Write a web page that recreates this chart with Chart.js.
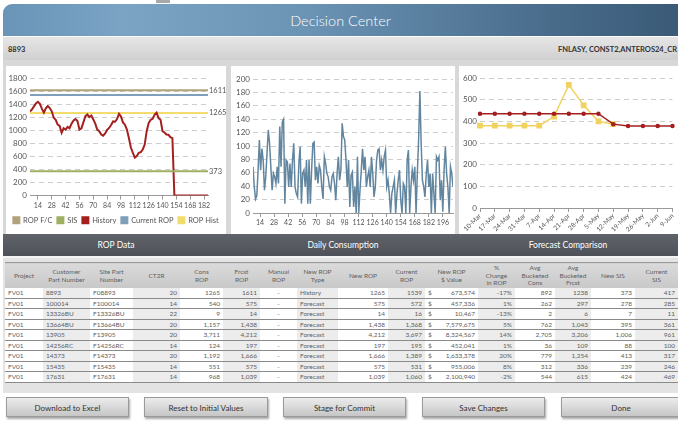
<!DOCTYPE html>
<html>
<head>
<meta charset="utf-8">
<script src="https://cdn.jsdelivr.net/npm/chart.js@4.4.1/dist/chart.umd.min.js"></script>
<style>
body{margin:0;width:678px;height:425px;overflow:hidden;background:#fff;font-family:Lato,'Open Sans',sans-serif;position:relative}
#tab{position:absolute;left:156px;top:0;width:14px;height:3px;background:#a9a9a9}
#header{position:absolute;left:3px;top:4px;width:675px;height:32px;border-radius:9px 0 0 0;
  background:linear-gradient(to right,#6a95b8 0%,#7aa3c4 18%,#6b93b4 45%,#4e7292 75%,#3a5a77 100%);
  color:#fff;font-size:14.5px;font-weight:300;text-align:center;line-height:33px}
#sub{position:absolute;left:3px;top:37px;width:675px;height:23px;background:linear-gradient(#e6e6e6,#d0d0d0);
  font-size:7.5px;font-weight:bold;color:#333}
#sub .l{position:absolute;left:5px;top:8px}
#sub .r{position:absolute;right:1px;top:8px}
#charts{position:absolute;left:3px;top:60px;width:675px;height:174px;background:#d8d8d8}
.panel{position:absolute;top:66px;height:168px;background:#fff}
#p1{left:6px;width:220px}
#p2{left:231px;width:224px}
#p3{left:459px;width:219px}
#bar{position:absolute;left:3px;top:234px;width:675px;height:22px;background:linear-gradient(#606369,#4e5157);color:#fff;font-size:8.5px}
#bar span{position:absolute;top:6px;transform:translateX(-50%);white-space:nowrap}
#tarea{position:absolute;left:3px;top:256px;width:675px;height:135px;background:#e3e3e3;border-top:2px solid #f4f4f4}
table{position:absolute;left:5px;top:262px;border-collapse:collapse;table-layout:fixed;width:673px;font-size:6.5px;color:#606060}
th{height:25px;padding:0 2px;background:linear-gradient(#dadada,#c8c8c8);font-weight:normal;white-space:pre-line;line-height:7.5px;border-top:1px solid #999}
td{height:9.5px;padding:0 3px;border-bottom:1px solid #8a8a8a;background:#fff;white-space:nowrap;line-height:9px}
td.g{background:#ececec}
td.r{text-align:right}
td.c{text-align:center}
td .d{float:left}
.btn{position:absolute;top:397px;height:20px;border:1px solid #9a9a9a;background:linear-gradient(#ececec,#c6c6c6);
  box-shadow:1px 2px 2px rgba(0,0,0,.35);font-size:8px;color:#333;text-align:center;line-height:20px;box-sizing:border-box}
canvas{position:absolute;top:66px}
</style>
</head>
<body>
<div id="tab"></div>
<div id="header">Decision Center</div>
<div id="sub"><span class="l">8893</span><span class="r">FNLASY, CONST2,ANTEROS24_CR</span></div>
<div id="charts"></div>
<div class="panel" id="p1"></div>
<div class="panel" id="p2"></div>
<div class="panel" id="p3"></div>
<canvas id="ropChart" width="220" height="168" style="left:6px"></canvas>
<canvas id="consChart" width="224" height="168" style="left:231px"></canvas>
<canvas id="fcChart" width="219" height="168" style="left:459px"></canvas>
<div id="bar"><span style="left:113px">ROP Data</span><span style="left:340px">Daily Consumption</span><span style="left:565px">Forecast Comparison</span></div>
<div id="tarea"></div>
<table id="tbl"></table>
<div class="btn" style="left:6px;width:123px">Download to Excel</div>
<div class="btn" style="left:144px;width:124px">Reset to Initial Values</div>
<div class="btn" style="left:283px;width:123px">Stage for Commit</div>
<div class="btn" style="left:422px;width:123px">Save Changes</div>
<div class="btn" style="left:561px;width:120px">Done</div>
<script>
// ROP data (history every 2 days from day 6)
const historyStart = 6
const historyStep = 2
const historyValues = [1285,1320,1365,1410,1436,1405,1330,1270,1335,1370,
  1340,1290,1190,1160,1085,1065,960,1030,1010,1050,
  1030,1100,1150,1170,1140,1010,1030,1120,1215,1240,
  1200,1225,1165,1100,1010,985,935,915,950,1005,
  1035,1080,1135,1130,1170,1250,1210,1120,1085,1010,
  880,735,655,580,605,655,665,705,780,985,
  1110,1160,1175,1235,1270,1185,1160,985,965,935,
  930,895,880,
  0,0,0,0,0,0,0,0,0,0,0,0,0,0,0,0,0,0]
const ropFc = 1611
const sisLevel = 373
const currentRop = 1539
const ropHist = 1265
const ropTicksX = [14,28,42,56,70,84,98,112,126,140,154,168,182]
const ropMarks = [373,1265,1611]

// daily consumption
const consStart = 7
const consEnd = 206
const consValues = [69,39,21,26,64,109,64,96,79,34,
  54,89,124,104,69,34,59,54,44,69,
  44,129,69,136,140,14,79,76,39,74,
  39,79,104,39,29,24,74,99,14,59,
  64,39,79,14,79,14,64,104,106,49,
  69,44,71,64,39,21,84,74,59,54,
  39,34,54,59,44,19,59,84,49,64,
  134,114,109,79,39,79,9,56,61,9,
  39,0,84,0,34,64,96,64,84,39,
  54,64,39,84,59,24,39,79,94,96,
  64,79,64,84,94,39,49,29,0,29,
  39,49,0,29,49,64,19,0,44,39,
  0,79,94,0,39,64,49,69,0,59,
  109,182,104,49,39,24,59,79,39,59,
  0,59,29,0,84,79,84,19,49,2,
  64,99,59,39,0,69,59,39]
const consTicksX = [14,28,42,56,70,84,98,112,126,140,154,168,182,196]

// forecast comparison
const weeks = ['10-Mar','17-Mar','24-Mar','31-Mar','7-Apr','14-Apr','21-Apr','28-Apr','5-May','12-May','19-May','26-May','2-Jun','9-Jun']
const fcRed = [435,435,435,435,435,435,435,435,435,387,378,378,378,378]
const fcYellow = [380,380,380,380,380,422,568,474,400,387]

// table
const tableHead = ['Project','Customer\nPart Number','Site Part\nNumber','CT2R','Cons\nROP','Frcst\nROP','Manual\nROP','New ROP\nType','New ROP','Current\nROP','New ROP\n$ Value','%\nChange\nin ROP','Avg\nBucketed\nCons','Avg\nBucketed\nFrcst','New SIS','Current\nSIS']
const colWidths = [38,47,43,47,43,37,37,41,50,37,53,37,40,36,44,43]
const colAlign = ['','','','r','r','r','c','','r','r','r','r','r','r','r','r']
const tableRows = [
  ['FV01','8893','F08893','20','1265','1611','-','History','1265','1539','673,574','-17%','892','1238','373','417'],
  ['FV01','100014','F100014','14','540','575','-','Forecast','575','572','457,336','1%','262','297','278','285'],
  ['FV01','13326BU','F13326BU','22','9','14','-','Forecast','14','16','10,467','-13%','2','6','7','11'],
  ['FV01','13664BU','F13664BU','20','1,157','1,438','-','Forecast','1,438','1,368','7,579,675','5%','762','1,043','395','361'],
  ['FV01','13905','F13905','20','3,711','4,212','-','Forecast','4,212','3,697','8,324,567','14%','2,705','3,206','1,006','961'],
  ['FV01','14256RC','F14256RC','14','124','197','-','Forecast','197','195','452,041','1%','36','109','88','100'],
  ['FV01','14373','F14373','20','1,192','1,666','-','Forecast','1,666','1,389','1,633,378','20%','779','1,254','413','317'],
  ['FV01','15435','F15435','14','551','575','-','Forecast','575','531','955,006','8%','312','336','239','246'],
  ['FV01','17631','F17631','14','968','1,039','-','Forecast','1,039','1,060','2,100,940','-2%','544','615','424','469']
]

Chart.defaults.font.family = 'Lato'
Chart.defaults.font.size = 8
Chart.defaults.color = '#555'
Chart.defaults.animation = false

const plain = v => String(v)
const gridY = { color: '#cdcdcd', drawTicks: false }
const borderY = { display: false, dash: [5, 4] }
const gridX = { drawOnChartArea: false, tickLength: 4, color: '#999' }
const ticksY = step => ({ stepSize: step, padding: 3, autoSkip: false, callback: plain })
const ticksX = { padding: 2, maxRotation: 0, autoSkip: false, callback: plain, font: { size: 7 } }
const fixW = w => a => { a.width = w }
const fixH = h => a => { a.height = h }

const historyPts = historyValues.map((v, i) => ({ x: historyStart + i * historyStep, y: v }))
const lastDay = historyStart + (historyValues.length - 1) * historyStep
const flat = v => [{ x: historyStart, y: v }, { x: lastDay, y: v }]

function lineSet(label, data, color, extra) {
  return Object.assign({ label, data, borderColor: color, backgroundColor: color, borderWidth: 2, pointRadius: 0 }, extra)
}

new Chart(document.getElementById('ropChart'), {
  type: 'line',
  data: {
    datasets: [
      lineSet('ROP F/C', flat(ropFc), '#b2a27b'),
      lineSet('SIS', flat(sisLevel), '#9eb062'),
      lineSet('History', historyPts, '#a3201f'),
      lineSet('Current ROP', flat(currentRop), '#7f9fba'),
      lineSet('ROP Hist', flat(ropHist), '#f3dc6b')
    ]
  },
  options: {
    responsive: false,
    layout: { padding: { top: 12, left: 0, right: 0, bottom: 0 } },
    plugins: {
      legend: { position: 'bottom', labels: { boxWidth: 6, boxHeight: 6, padding: 5, color: '#555', font: { size: 7.5 } } },
      tooltip: { enabled: false }
    },
    scales: {
      x: { type: 'linear', min: historyStart, max: lastDay,
        afterBuildTicks: a => { a.ticks = ropTicksX.map(v => ({ value: v })) },
        afterFit: fixH(16),
        ticks: ticksX, grid: gridX, border: { color: '#999' } },
      y: { min: 0, max: 1800, afterFit: fixW(24), ticks: ticksY(200), grid: gridY, border: borderY },
      y2: { position: 'right', min: 0, max: 1800, afterFit: fixW(18),
        afterBuildTicks: a => { a.ticks = ropMarks.map(v => ({ value: v })) },
        ticks: { padding: 1, autoSkip: false, callback: plain, font: { size: 7.5 } },
        grid: { display: false, drawTicks: false, tickLength: 0 }, border: { display: false } }
    }
  }
})

const consStep = (consEnd - consStart) / (consValues.length - 1)
new Chart(document.getElementById('consChart'), {
  type: 'line',
  data: {
    datasets: [lineSet('Daily Consumption', consValues.map((v, i) => ({ x: consStart + i * consStep, y: v })), '#62869f', { borderWidth: 1.5 })]
  },
  options: {
    responsive: false,
    layout: { padding: { top: 13, left: 0, right: 2, bottom: 5 } },
    plugins: { legend: { display: false }, tooltip: { enabled: false } },
    scales: {
      x: { type: 'linear', min: consStart, max: consEnd,
        afterBuildTicks: a => { a.ticks = consTicksX.map(v => ({ value: v })) },
        afterFit: fixH(16),
        ticks: ticksX, grid: gridX, border: { color: '#999' } },
      y: { min: 0, max: 200, afterFit: fixW(22), ticks: ticksY(20), grid: gridY, border: borderY }
    }
  }
})

new Chart(document.getElementById('fcChart'), {
  type: 'line',
  data: {
    labels: weeks,
    datasets: [
      lineSet('Forecast', fcRed, '#a3201f', { borderWidth: 1.5, pointRadius: 1.5, pointStyle: 'circle' }),
      lineSet('History', fcYellow, '#f0d35e', { borderWidth: 1.5, pointRadius: 3, pointStyle: 'rect' })
    ]
  },
  options: {
    responsive: false,
    layout: { padding: { top: 12, left: 0, right: 1, bottom: 2 } },
    plugins: { legend: { display: false }, tooltip: { enabled: false } },
    scales: {
      x: { afterFit: fixH(24),
        ticks: { minRotation: 45, maxRotation: 45, autoSkip: false, padding: 0, font: { size: 6.5 } },
        grid: gridX, border: { color: '#999' } },
      y: { min: 0, max: 600, afterFit: fixW(21), ticks: ticksY(100), grid: gridY, border: borderY }
    }
  }
})

// table
const tbl = document.getElementById('tbl')
let html = '<colgroup>' + colWidths.map(w => `<col style="width:${w}px">`).join('') + '</colgroup>'
html += '<tr>' + tableHead.map(h => `<th>${h}</th>`).join('') + '</tr>'
tableRows.forEach(r => {
  html += '<tr>' + r.map((v, i) => {
    const cls = [colAlign[i], i % 2 ? 'g' : ''].join(' ')
    const txt = i === 10 ? `<span class="d">$</span>${v}` : v
    return `<td class="${cls}">${txt}</td>`
  }).join('') + '</tr>'
})
tbl.innerHTML = html
</script>
</body>
</html>
